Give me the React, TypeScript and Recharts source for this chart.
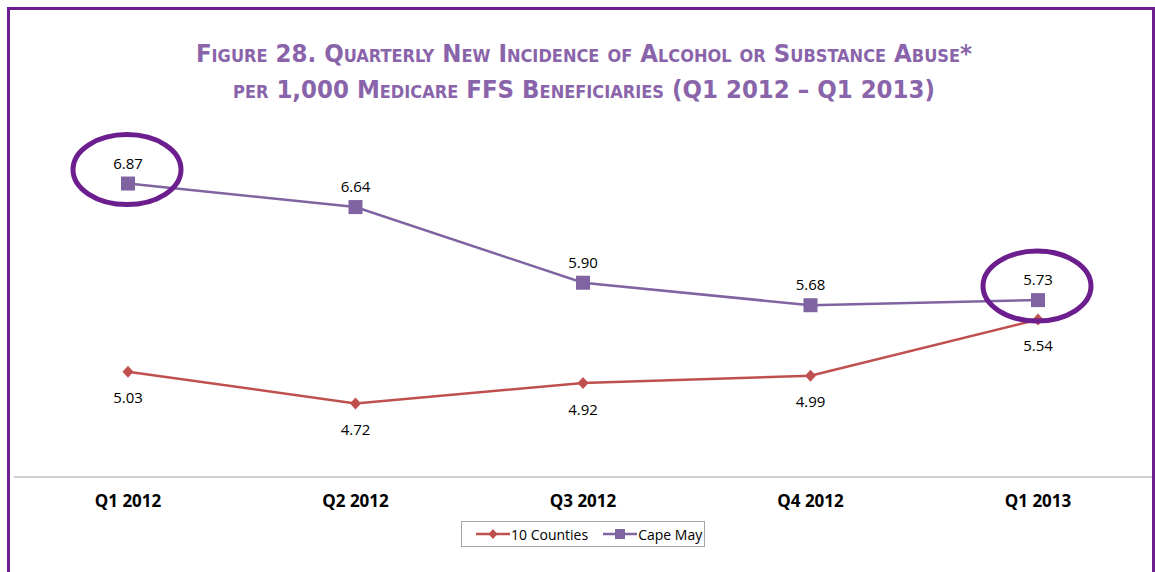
import React from 'react';
import {
  LineChart,
  Line,
  XAxis,
  YAxis,
  LabelList,
  ReferenceDot,
} from 'recharts';

// quarters on the x axis
const quarters = ['Q1 2012', 'Q2 2012', 'Q3 2012', 'Q4 2012', 'Q1 2013'];
// new incidence per 1,000 beneficiaries
const tenCounties = [5.03, 4.72, 4.92, 4.99, 5.54];
const capeMay = [6.87, 6.64, 5.9, 5.68, 5.73];
// points circled on the original figure
const circled = [
  { quarter: 'Q1 2012', value: 6.87 },
  { quarter: 'Q1 2013', value: 5.73 },
];

const data = quarters.map((q, i) => ({
  quarter: q,
  tenCounties: tenCounties[i],
  capeMay: capeMay[i],
}));

const RED = '#C0504D';
const PURPLE = '#8064A2';
const DARK = '#6C1D8E';
const FONT = '"Open Sans", "Liberation Sans", sans-serif';

const SquareDot = (props: any) => {
  const { cx, cy } = props;
  if (cx == null || cy == null) return null;
  return <rect x={cx - 7} y={cy - 7} width={14} height={14} fill={PURPLE} />;
};

const DiamondDot = (props: any) => {
  const { cx, cy } = props;
  if (cx == null || cy == null) return null;
  return (
    <polygon
      points={`${cx},${cy - 6} ${cx + 5.5},${cy} ${cx},${cy + 6} ${cx - 5.5},${cy}`}
      fill={RED}
    />
  );
};

const Ring = (props: any) => {
  const { cx, cy } = props;
  if (cx == null || cy == null) return null;
  return (
    <ellipse cx={cx - 1} cy={cy - 14} rx={54} ry={35} fill="none" stroke={DARK} strokeWidth={5} />
  );
};

const fmt = (v: any) => Number(v).toFixed(2);

const App: React.FC = () => {
  return (
    <div
      style={{
        position: 'absolute',
        left: 0,
        top: 0,
        width: 1155,
        height: 572,
        overflow: 'hidden',
        background: '#fff',
        fontFamily: FONT,
      }}
    >
      <div
        style={{
          position: 'absolute',
          left: 7,
          top: 7,
          width: 1148,
          height: 600,
          boxSizing: 'border-box',
          borderTop: `3px solid ${DARK}`,
          borderLeft: `3px solid ${DARK}`,
          borderRight: `3px solid ${DARK}`,
        }}
      />
      <div
        style={{
          position: 'absolute',
          left: 0,
          top: 35,
          width: 1168,
          textAlign: 'center',
          color: '#8A64AA',
          fontWeight: 700,
          fontSize: 25.5,
          lineHeight: '36px',
          fontVariant: 'small-caps',
          fontFamily: '"Liberation Sans Narrow", "DejaVu Sans Condensed", "Open Sans", sans-serif',
        }}
      >
        <div>Figure 28. Quarterly New Incidence of Alcohol or Substance Abuse*</div>
        <div>per 1,000 Medicare FFS Beneficiaries (Q1 2012 – Q1 2013)</div>
      </div>

      <div style={{ position: 'absolute', left: 0, top: 0 }}>
        <LineChart
          width={1155}
          height={572}
          data={data}
          margin={{ top: 68, right: 3, bottom: 65, left: 14 }}
        >
          <XAxis
            dataKey="quarter"
            height={30}
            tickLine={false}
            padding={{ left: 114, right: 114 }}
            axisLine={{ stroke: '#BFBFBF', strokeWidth: 1.5 }}
            tickMargin={12}
            tick={{ fill: '#000', fontSize: 17, fontWeight: 700, fontFamily: FONT }}
            interval={0}
          />
          <YAxis hide domain={[4, 8]} />
          <Line
            dataKey="tenCounties"
            name="10 Counties"
            stroke={RED}
            strokeWidth={2.5}
            dot={<DiamondDot />}
            activeDot={false}
            isAnimationActive={false}
          >
            <LabelList
              dataKey="tenCounties"
              position="bottom"
              offset={21}
              formatter={fmt}
              style={{ fill: '#000', fontSize: 15, fontFamily: FONT }}
            />
          </Line>
          <Line
            dataKey="capeMay"
            name="Cape May"
            stroke={PURPLE}
            strokeWidth={2.5}
            dot={<SquareDot />}
            activeDot={false}
            isAnimationActive={false}
          >
            <LabelList
              dataKey="capeMay"
              position="top"
              offset={15}
              formatter={fmt}
              style={{ fill: '#000', fontSize: 15, fontFamily: FONT }}
            />
          </Line>
          {circled.map((c) => (
            <ReferenceDot
              key={c.quarter}
              x={c.quarter}
              y={c.value}
              shape={<Ring />}
              ifOverflow="visible"
            />
          ))}
        </LineChart>
      </div>

      <div
        style={{
          position: 'absolute',
          left: 461,
          top: 521,
          width: 244,
          height: 26,
          boxSizing: 'border-box',
          border: '1px solid #A6A6A6',
          display: 'flex',
          alignItems: 'center',
          fontSize: 14,
          color: '#000',
        }}
      >
        <svg width={34} height={12} style={{ marginLeft: 14 }}>
          <line x1={0} y1={6} x2={34} y2={6} stroke={RED} strokeWidth={2.5} />
          <polygon points="17,1 21.5,6 17,11 12.5,6" fill={RED} />
        </svg>
        <span style={{ marginLeft: 1 }}>10 Counties</span>
        <svg width={34} height={12} style={{ marginLeft: 15 }}>
          <line x1={0} y1={6} x2={34} y2={6} stroke={PURPLE} strokeWidth={2.5} />
          <rect x={12} y={1} width={10} height={10} fill={PURPLE} />
        </svg>
        <span style={{ marginLeft: 1 }}>Cape May</span>
      </div>
    </div>
  );
};

export default App;
